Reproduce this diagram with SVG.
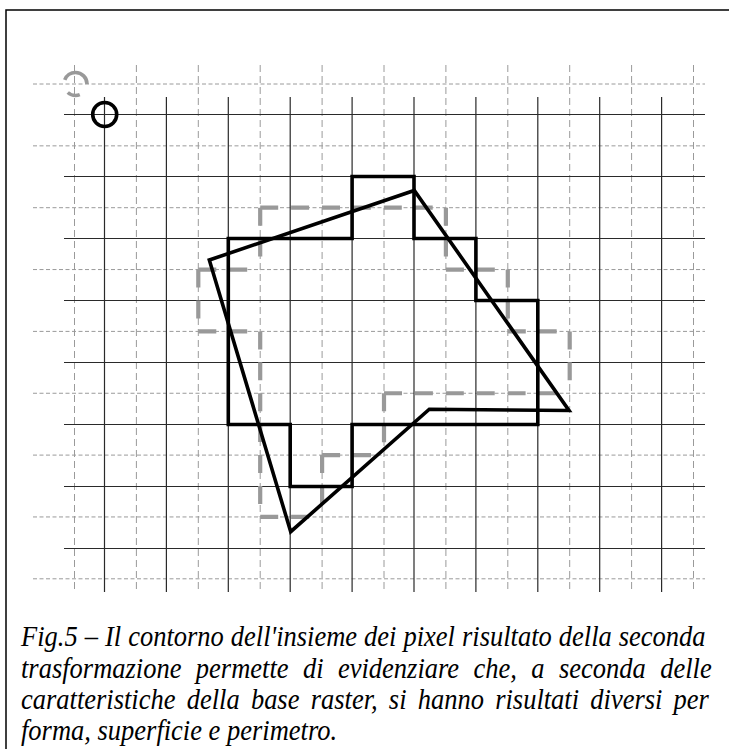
<svg xmlns="http://www.w3.org/2000/svg" width="729" height="749" viewBox="0 0 729 749">
<style>
.frame{fill:none;stroke:#000;stroke-width:1.5}
.gs{stroke:#2a2a2a;stroke-width:1.2;fill:none}
.gdv{stroke:#9a9a9a;stroke-width:1;stroke-dasharray:7 4;fill:none}
.gdh{stroke:#9a9a9a;stroke-width:1;stroke-dasharray:4 2.5;fill:none}
.gray{stroke:#999;stroke-width:4.2;stroke-dasharray:18 12.9;fill:none}
.blk{stroke:#000;stroke-width:3.6;fill:none;stroke-linejoin:miter}
</style>
<rect width="729" height="749" fill="#fff"/>
<path id="frame" class="frame" d="M6,749 V10 H729"/>
<g id="grid-dashed">
<path class="gdv" d="M74.5,65V592M136.4,65V592M198.3,65V592M260.2,65V592M322.1,65V592M384,65V592M445.9,65V592M507.8,65V592M569.7,65V592M631.6,65V592M693.5,65V592"/>
<path class="gdh" d="M33,84H705M33,145.85H705M33,207.7H705M33,269.55H705M33,331.4H705M33,393.25H705M33,455.1H705M33,516.95H705M33,578.8H705"/>
</g>
<g id="grid-solid">
<path class="gs" d="M104.5,97V592M166.4,97V592M228.3,97V592M290.2,97V592M352.1,97V592M414,97V592M475.9,97V592M537.8,97V592M599.7,97V592M661.6,97V592"/>
<path class="gs" d="M64,114.5H705M64,176.5H705M64,238.5H705M64,300.5H705M64,362.5H705M64,424.5H705M64,486.5H705M64,548.5H705"/>
</g>
<g id="origin-dashed">
<circle cx="75.5" cy="84" r="11.5" fill="none" stroke="#999" stroke-width="3.6" stroke-dasharray="12.8 13.6 32.1 13.6" stroke-dashoffset="58.5"/>
</g>
<g id="origin-solid">
<circle cx="104.7" cy="114.5" r="12" fill="none" stroke="#000" stroke-width="3.6"/>
</g>
<g id="contour-raster2">
<line class="gray" x1="260.2" y1="207.7" x2="445.9" y2="207.7"/>
<line class="gray" x1="445.9" y1="207.7" x2="445.9" y2="269.55"/>
<line class="gray" x1="445.9" y1="269.55" x2="507.8" y2="269.55"/>
<line class="gray" x1="507.8" y1="269.55" x2="507.8" y2="331.4"/>
<line class="gray" x1="507.8" y1="331.4" x2="569.7" y2="331.4"/>
<line class="gray" x1="569.7" y1="331.4" x2="569.7" y2="393.25"/>
<line class="gray" x1="384" y1="393.25" x2="569.7" y2="393.25"/>
<line class="gray" x1="384" y1="393.25" x2="384" y2="455.1"/>
<line class="gray" x1="322.1" y1="455.1" x2="384" y2="455.1"/>
<line class="gray" x1="322.1" y1="455.1" x2="322.1" y2="516.95"/>
<line class="gray" x1="260.2" y1="516.95" x2="322.1" y2="516.95"/>
<line class="gray" x1="260.2" y1="331.4" x2="260.2" y2="516.95"/>
<line class="gray" x1="198.3" y1="331.4" x2="260.2" y2="331.4"/>
<line class="gray" x1="198.3" y1="269.55" x2="198.3" y2="331.4"/>
<line class="gray" x1="198.3" y1="269.55" x2="260.2" y2="269.55"/>
<line class="gray" x1="260.2" y1="207.7" x2="260.2" y2="269.55"/>
</g>
<g id="contour-raster1">
<path class="blk" d="M228.3,238.5 H352.1 V176.5 H414 V238.5 H475.9 V300.5 H537.8 V424.5 H352.1 V486.5 H290.2 V424.5 H228.3 Z"/>
</g>
<g id="polygon-original">
<path class="blk" d="M209.3,260 L414.3,190.5 L569,410.5 L429.3,409.2 L290.7,531.7 Z"/>
</g>
<g id="caption" font-family="'Liberation Serif', 'DejaVu Serif', serif" font-style="italic" font-size="26.5" fill="#000">
<text transform="translate(21 646) scale(1 1.1)" word-spacing="0.4">Fig.5 – Il contorno dell'insieme dei pixel risultato della seconda</text>
<text transform="translate(21 677.5) scale(1 1.1)" word-spacing="7.8">trasformazione permette di evidenziare che, a seconda delle</text>
<text transform="translate(21 709) scale(1 1.1)" word-spacing="4.6">caratteristiche della base raster, si hanno risultati diversi per</text>
<text transform="translate(21 740) scale(1 1.1)">forma, superficie e perimetro.</text>
</g>
</svg>
